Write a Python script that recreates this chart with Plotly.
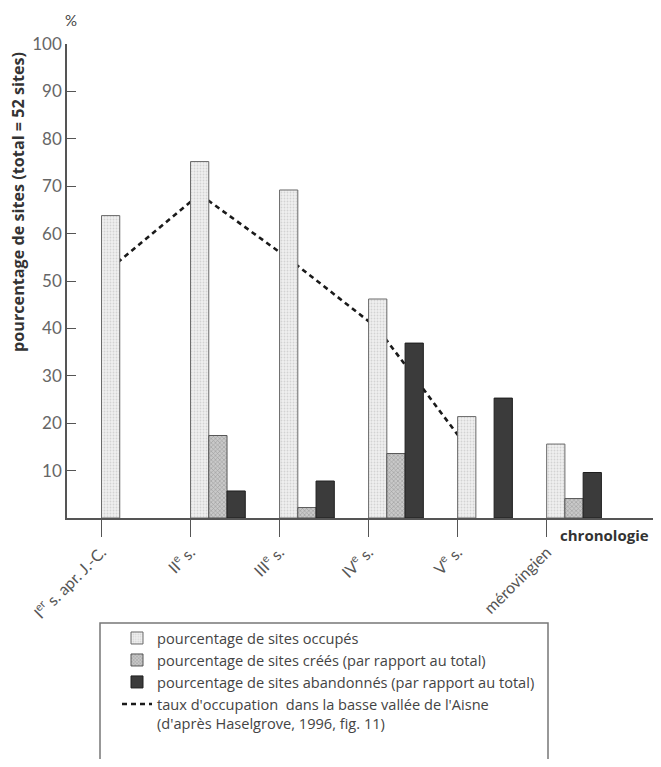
import plotly.graph_objects as go

# ---- data ----
periods = ["I<sup>er</sup> s. apr. J.-C.", "II<sup>e</sup> s.", "III<sup>e</sup> s.",
           "IV<sup>e</sup> s.", "V<sup>e</sup> s.", "mérovingien"]
occupied = [63.8, 75.2, 69.2, 46.2, 21.4, 15.6]
created = [None, 17.4, 2.2, 13.6, None, 4.1]
abandoned = [None, 5.7, 7.8, 36.9, 25.3, 9.6]
aisne_rate = [52.7, 68.3, 54.7, 40.0, 15.0]   # I..V s.
y_ticks = [10, 20, 30, 40, 50, 60, 70, 80, 90, 100]

names = ["pourcentage de sites occupés",
         "pourcentage de sites créés (par rapport au total)",
         "pourcentage de sites abandonnés (par rapport au total)",
         "taux d'occupation  dans la basse vallée de l'Aisne<br>(d'après Haselgrove, 1996, fig. 11)"]

FONT = "Lato"
TFONT = "Open Sans"
BW = 0.205
idx = list(range(len(periods)))
XR = [-0.3875, 6.217]

# window-pixel layout (page body adds an 8px offset); figure sized to fit the window
OFF = 8
PL, PR, PT, PB = 67, 655, 44, 518   # plot area in window pixels
W, H = 661 - OFF, 767 - 2 * OFF
PW, PH = PR - PL, PB - PT


def px(xw):
    return (xw - PL) / PW


def py(yw):
    return (PB - yw) / PH


fig = go.Figure()

series = [
    (occupied, 0, dict(color="#ededed", line=dict(color="#6a6a6a", width=1),
                       pattern=dict(shape=".", fgcolor="#b8b8b8", bgcolor="#efefef", size=3, solidity=0.3))),
    (created, 1, dict(color="#bdbdbd", line=dict(color="#555555", width=1),
                      pattern=dict(shape="x", fgcolor="#707070", bgcolor="#c9c9c9", size=3, solidity=0.35))),
    (abandoned, 2, dict(color="#3b3b3b", line=dict(color="#1e1e1e", width=1))),
]
for (vals, k, marker), nm in zip(series, names[:3]):
    fig.add_trace(go.Bar(
        x=[i + k * BW for i in idx], y=vals, width=BW, offset=0,
        marker=marker, name=nm, xaxis="x2", yaxis="y2",
        legendgroup=nm,
    ))

fig.add_trace(go.Scatter(
    x=[i + BW / 2 for i in idx[:len(aisne_rate)]], y=aisne_rate,
    mode="lines", line=dict(color="#1a1a1a", width=2.6, dash="5px,4px"),
    name=names[3], legendgroup="line",
))

axis_common = dict(showgrid=False, zeroline=False, automargin=False)
fig.update_layout(
    width=W, height=H,
    margin=dict(l=PL - OFF, r=W - (PR - OFF), t=PT - OFF, b=H - (PB - OFF), autoexpand=False),
    paper_bgcolor="white", plot_bgcolor="white",
    font=dict(family=FONT, color="#555"),
    barmode="overlay",
    showlegend=True,
    xaxis=dict(range=XR, tickmode="array", tickvals=idx, ticktext=periods,
               tickangle=-45, ticks="outside", ticklen=17, tickcolor="#555", tickwidth=1.2,
               showline=True, linecolor="#555", linewidth=1.5,
               tickfont=dict(size=16, color="#555", family=FONT), **axis_common),
    yaxis=dict(range=[0, 100], tickmode="array", tickvals=y_ticks,
               ticks="inside", ticklen=9, tickcolor="#555", tickwidth=1.2,
               showline=True, linecolor="#555", linewidth=1.5,
               tickfont=dict(size=17, color="#666", family=FONT), **axis_common),
    xaxis2=dict(range=XR, overlaying="x", visible=False, **axis_common),
    yaxis2=dict(range=[0, 100], overlaying="y", visible=False, **axis_common),
    legend=dict(x=px(117), y=py(622), xanchor="left", yanchor="top",
                bgcolor="rgba(0,0,0,0)", borderwidth=0,
                font=dict(size=14.6, color="#444", family=TFONT),
                traceorder="grouped", tracegroupgap=0, valign="top"),
)

fig.add_shape(type="rect", xref="paper", yref="paper",
              x0=px(100), x1=px(548), y0=py(623), y1=py(800),
              line=dict(color="#777", width=1.5), fillcolor="rgba(0,0,0,0)", layer="below")

fig.add_annotation(text="%", xref="paper", yref="paper", x=px(71), y=py(20),
                   xanchor="center", yanchor="middle",
                   showarrow=False, font=dict(size=15, color="#444", family=FONT))
fig.add_annotation(text="<b>chronologie</b>", xref="paper", yref="paper",
                   x=px(604), y=py(535), xanchor="center", yanchor="middle", showarrow=False,
                   font=dict(size=15, color="#333", family=TFONT))
fig.add_annotation(text="<b>pourcentage de sites (total = 52 sites)</b>", xref="paper", yref="paper",
                   x=px(18), y=py(202), xanchor="center", yanchor="middle", textangle=-90, showarrow=False,
                   font=dict(size=16.2, color="#333", family=TFONT))

fig.write_html("out.html")
